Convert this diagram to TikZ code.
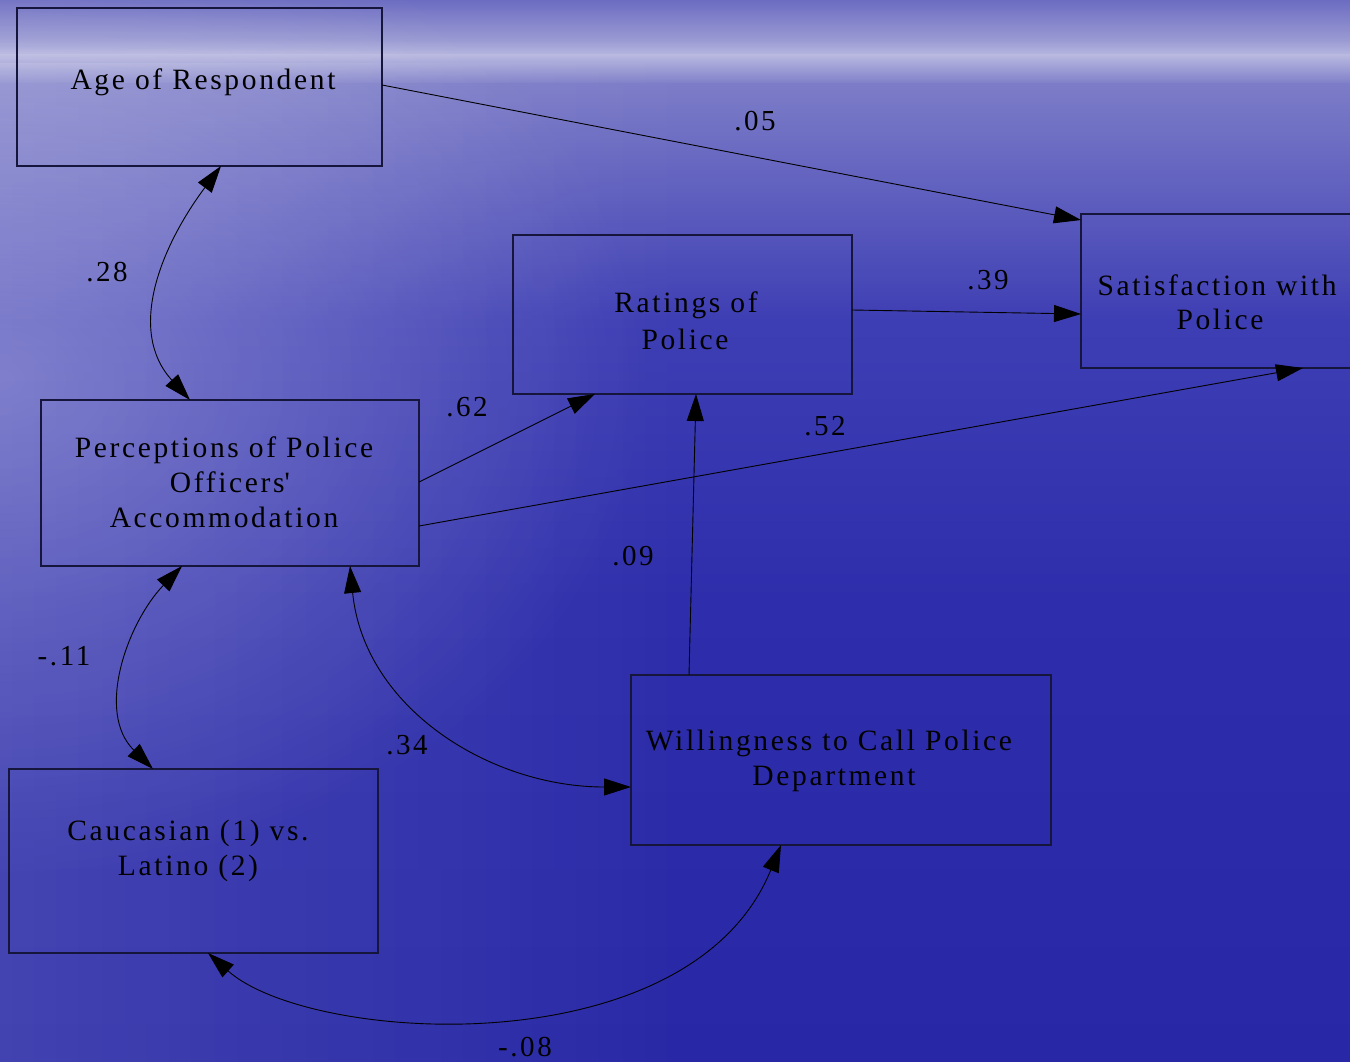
\documentclass[tikz,border=0pt]{standalone}
\usepackage{fontspec}
\setmainfont{Liberation Serif}[LetterSpace=9]
\usetikzlibrary{arrows.meta,fadings}
\definecolor{bxline}{RGB}{22,22,60}
\definecolor{bgA}{RGB}{108,108,194}
\definecolor{bgB}{RGB}{156,156,212}
\definecolor{bgC}{RGB}{184,184,224}
\definecolor{bgD}{RGB}{124,124,200}
\definecolor{bgE}{RGB}{62,62,180}
\definecolor{bgF}{RGB}{46,46,172}
\definecolor{bgG}{RGB}{40,40,166}
\tikzfading[name=glowfade, inner color=transparent!0, outer color=transparent!100]
\begin{document}
\begin{tikzpicture}[x=1pt,y=-1pt,
  box/.style={draw=bxline, line width=1.1pt, inner sep=0pt, outer sep=0pt},
  txt/.style={anchor=base, inner sep=0pt, text=black, font=\fontsize{29.5}{35}\selectfont},
  num/.style={inner sep=0pt, text=black, font=\fontsize{29}{35}\selectfont},
  link/.style={line width=0.9pt, -{Triangle[length=27pt,width=17pt]}},
  dlink/.style={line width=0.9pt, {Triangle[length=27pt,width=17pt]}-{Triangle[length=27pt,width=17pt]}}]
\useasboundingbox (0,0) rectangle (1350,1062);
% background
\begin{scope}
\clip (0,0) rectangle (1350,1062);
\shade[top color=bgA, bottom color=bgB] (0,0) rectangle (1350,42);
\shade[top color=bgB, bottom color=bgC] (0,41) rectangle (1350,56);
\shade[top color=bgC, bottom color=bgD] (0,55) rectangle (1350,85);
\shade[top color=bgD, bottom color=bgE] (0,84) rectangle (1350,320);
\shade[top color=bgE, bottom color=bgF] (0,319) rectangle (1350,600);
\shade[top color=bgF, bottom color=bgG] (0,599) rectangle (1350,1062);
\fill[white, opacity=0.12, path fading=east] (0,60) rectangle (700,1062);
\fill[white, opacity=0.26, path fading=glowfade] (-650,-120) rectangle (650,880);
\end{scope}
% boxes
\node[box, minimum width=365pt, minimum height=158pt] (age) at (199.5,87) {};
\node[box, minimum width=274pt, minimum height=154pt] (sat) at (1218,291) {};
\node[box, minimum width=339pt, minimum height=159pt] (rat) at (682.5,314.5) {};
\node[box, minimum width=378pt, minimum height=166pt] (perc) at (230,483) {};
\node[box, minimum width=420pt, minimum height=170pt] (will) at (841,760) {};
\node[box, minimum width=369pt, minimum height=184pt] (cau) at (193.5,861) {};
% texts
\node[txt] (tage) at (203,90) {Age of Respondent};
\node[txt] (tsat1) at (1217,295) {Satisfaction with};
\node[txt] (tsat2) at (1220,329) {Police};
\node[txt] (trat1) at (686,312.5) {Ratings of};
\node[txt] (trat2) at (685,349) {Police};
\node[txt] (tper1) at (224,457) {Perceptions of Police};
\node[txt] (tper2) at (230,492.5) {Officers\textquotesingle};
\node[txt] (tper3) at (224,527.5) {Accommodation};
\node[txt] (twil1) at (829,750) {Willingness to Call Police};
\node[txt] (twil2) at (834,785) {Department};
\node[txt] (tcau1) at (188,840) {Caucasian (1) vs.};
\node[txt] (tcau2) at (188,875.5) {Latino (2)};
% numbers
\node[num] (n05) at (755,121) {.05};
\node[num] (n39) at (988,280) {.39};
\node[num] (n62) at (467,407) {.62};
\node[num] (n52) at (825,426) {.52};
\node[num] (n09) at (633,556) {.09};
\node[num] (n28) at (107,272) {.28};
\node[num] (n11) at (64,656) {-.11};
\node[num] (n34) at (407,745) {.34};
\node[num] (n08) at (525,1047) {-.08};
% straight paths
\draw[link] ([yshift=2pt]age.east) -- ([yshift=-6pt]sat.north west);
\draw[link] ([yshift=4.5pt]rat.east) -- ([yshift=-23pt]sat.west);
\draw[link] ([yshift=1pt]perc.east) -- ([xshift=-87.5pt]rat.south);
\draw[link] ([yshift=-43pt]perc.east) -- ([xshift=85pt]sat.south);
\draw[link] ([xshift=-152pt]will.north) -- ([xshift=13.5pt]rat.south);
% curved correlations
\draw[dlink] ([xshift=21.5pt]age.south) .. controls (162,245) and (126,330) .. ([xshift=-40pt]perc.north);
\draw[dlink] ([xshift=-48pt]perc.south) .. controls (128,622) and (95,712) .. ([xshift=-40.5pt]cau.north);
\draw[dlink] ([xshift=120pt]perc.south) .. controls (364,708) and (490,787) .. ([yshift=-27pt]will.west);
\draw[dlink] ([xshift=14.5pt]cau.south) .. controls (310,1044) and (690,1068) .. ([xshift=-60pt]will.south);
\end{tikzpicture}
\end{document}
